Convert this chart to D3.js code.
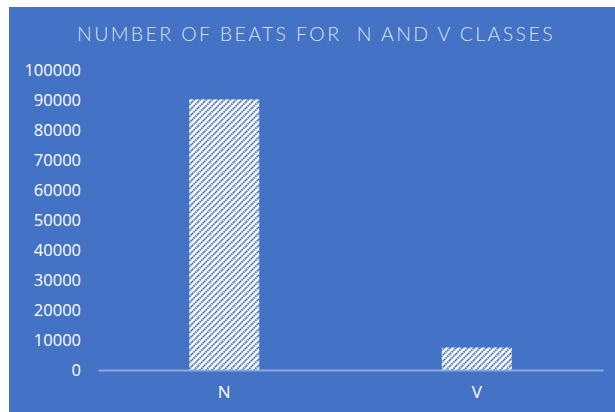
<!DOCTYPE html>
<html>
<head>
<meta charset="utf-8">
<script src="https://cdn.jsdelivr.net/npm/d3@7"></script>
<style>
  html, body { margin: 0; padding: 0; background: #ffffff; }
  svg { display: block; }
</style>
</head>
<body>
<svg id="chart" width="615" height="412"></svg>
<script>
// Beat counts per class
const categories = ["N", "V"];
const beatCounts = [90200, 7500];
const yTicks = [0, 10000, 20000, 30000, 40000, 50000, 60000, 70000, 80000, 90000, 100000];
const chartTitle = "NUMBER OF BEATS FOR  N AND V CLASSES";

const svg = d3.select("#chart");
const W = 615, H = 412;
const bg = "#4472c4";

// Panel background
svg.append("rect").attr("x", 9).attr("y", 7).attr("width", W - 9).attr("height", H - 7).attr("fill", bg);

// Hatched fill for the bars (upward diagonal)
const defs = svg.append("defs");
const pat = defs.append("pattern")
  .attr("id", "hatch")
  .attr("patternUnits", "userSpaceOnUse")
  .attr("width", 6).attr("height", 6);
pat.append("rect").attr("width", 6).attr("height", 6).attr("fill", "#ffffff");
pat.append("path")
  .attr("d", "M-1,1 L1,-1 M0,6 L6,0 M5,7 L7,5")
  .attr("stroke", bg)
  .attr("stroke-width", 2)
  .attr("stroke-dasharray", "1.6,0.7");

const plot = { left: 98, right: 603, top: 70, bottom: 370 };

const x = d3.scaleBand()
  .domain(categories)
  .range([plot.left, plot.right])
  .paddingInner(0.723)
  .paddingOuter(0.3615);

const y = d3.scaleLinear()
  .domain([0, 100000])
  .range([plot.bottom, plot.top]);

// Title
svg.append("text")
  .attr("x", 316)
  .attr("y", 41)
  .attr("text-anchor", "middle")
  .attr("fill", "#d9e2f3")
  .attr("font-family", "Lato, 'Open Sans', sans-serif")
  .attr("font-weight", 300)
  .attr("font-size", 19.5)
  .attr("letter-spacing", 2.4)
  .style("white-space", "pre")
  .text(chartTitle);

// Y axis labels (no axis line)
const yAxis = d3.axisLeft(y).tickValues(yTicks).tickSize(0).tickPadding(0).tickFormat(d3.format("d"));
const yg = svg.append("g").attr("transform", "translate(81,0)").call(yAxis);
yg.select(".domain").remove();
yg.selectAll("text")
  .attr("fill", "#ffffff")
  .attr("font-family", "'Open Sans', 'Noto Sans', sans-serif")
  .attr("font-size", 16.5);

// Bars
svg.append("g").selectAll("rect")
  .data(categories)
  .join("rect")
  .attr("x", d => x(d))
  .attr("width", x.bandwidth())
  .attr("y", (d, i) => y(beatCounts[i]))
  .attr("height", (d, i) => y(0) - y(beatCounts[i]))
  .attr("fill", "url(#hatch)");

// X axis
const xAxis = d3.axisBottom(x).tickSize(0).tickPadding(16);
const xg = svg.append("g").attr("transform", `translate(0,${plot.bottom})`).call(xAxis);
xg.select(".domain").attr("stroke", "#8eaadb").attr("stroke-width", 2);
xg.selectAll("text")
  .attr("fill", "#ffffff")
  .attr("font-family", "'Open Sans', 'Noto Sans', sans-serif")
  .attr("font-size", 17);
</script>
</body>
</html>
